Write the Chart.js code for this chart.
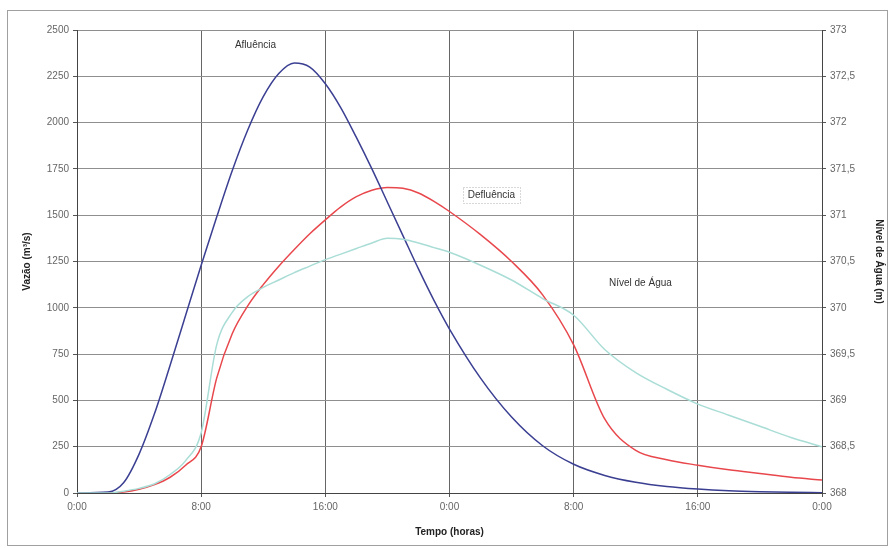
<!DOCTYPE html>
<html>
<head>
<meta charset="utf-8">
<script src="https://cdn.jsdelivr.net/npm/chart.js@4.4.1/dist/chart.umd.min.js"></script>
<style>
  html, body { margin: 0; padding: 0; background: #ffffff; }
  #wrap { width: 891px; height: 548px; position: relative; }
</style>
</head>
<body>
<div id="wrap"><canvas id="c" width="891" height="548"></canvas></div>
<script>
// Tempo em horas desde o início do evento
const hours = [0, 2, 3, 4, 5, 6, 7, 8, 9, 10, 11, 12, 13, 14, 15, 16, 17, 18, 19, 20, 21, 22, 23, 24,
               26, 28, 30, 32, 34, 36, 38, 40, 42, 44, 46, 48];

// Vazão afluente (m³/s)
const afluencia = [0, 5, 55, 210, 430, 690, 960, 1230, 1490, 1740, 1960, 2140, 2265, 2322, 2300, 2210,
                   2080, 1920, 1750, 1570, 1390, 1210, 1040, 885,
                   620, 410, 255, 155, 95, 58, 35, 21, 12, 7, 4, 2];

// Vazão defluente (m³/s)
const defluencia = [0, 0, 5, 20, 45, 85, 150, 250, 620, 860, 1010, 1125, 1225, 1315, 1400, 1475,
                    1545, 1600, 1635, 1650, 1645, 1620, 1575, 1520,
                    1395, 1250, 1070, 800, 400, 230, 180, 150, 125, 105, 85, 70];

// Nível de água no reservatório (m)
const nivel = [368.0, 368.0, 368.02, 368.05, 368.1, 368.2, 368.35, 368.65, 369.6, 369.95, 370.12, 370.22,
               370.3, 370.38, 370.45, 370.52, 370.58, 370.64, 370.7, 370.75, 370.74, 370.7, 370.65, 370.6,
               370.46, 370.3, 370.1, 369.92, 369.55, 369.3, 369.12, 368.96, 368.84, 368.72, 368.6, 368.5];

// Eixo do tempo
const xTicks = [0, 8, 16, 24, 32, 40, 48];
const xTickLabels = ['0:00', '8:00', '16:00', '0:00', '8:00', '16:00', '0:00'];

const FONT = '"Liberation Sans", Arial, sans-serif';

const toPoints = (ys) => hours.map((h, i) => ({ x: h, y: ys[i] }));

// Rótulos das curvas, ancorados em coordenadas de dados
const curveLabels = [
  { text: 'Afluência', x: 11.5, y: 2415, box: false },
  { text: 'Defluência', x: 26.7, y: 1610, box: true },
  { text: 'Nível de Água', x: 36.3, y: 1130, box: false }
];

const framePlugin = {
  id: 'frame',
  beforeDraw(chart) {
    const ctx = chart.ctx;
    ctx.save();
    ctx.fillStyle = '#ffffff';
    ctx.fillRect(0, 0, chart.width, chart.height);
    ctx.strokeStyle = '#a0a0a0';
    ctx.lineWidth = 1;
    ctx.strokeRect(7.5, 10.5, 880, 535);
    ctx.restore();
  }
};

const labelPlugin = {
  id: 'curveLabels',
  afterDatasetsDraw(chart) {
    const ctx = chart.ctx;
    const xs = chart.scales.x, ys = chart.scales.y;
    ctx.save();
    ctx.font = '10px ' + FONT;
    ctx.textAlign = 'center';
    ctx.textBaseline = 'middle';
    curveLabels.forEach(l => {
      const px = xs.getPixelForValue(l.x);
      const py = ys.getPixelForValue(l.y);
      const w = ctx.measureText(l.text).width;
      if (l.box) {
        ctx.fillStyle = '#ffffff';
        ctx.fillRect(px - w / 2 - 5, py - 8, w + 10, 16);
        ctx.strokeStyle = '#b0b0b0';
        ctx.setLineDash([1, 2]);
        ctx.strokeRect(Math.round(px - w / 2 - 5) + 0.5, Math.round(py - 8) + 0.5, Math.round(w + 10), 16);
        ctx.setLineDash([]);
      }
      ctx.fillStyle = '#333333';
      ctx.fillText(l.text, px, py);
    });
    ctx.restore();
  }
};

new Chart(document.getElementById('c'), {
  type: 'line',
  data: {
    datasets: [
      {
        label: 'Nível de Água',
        data: toPoints(nivel),
        yAxisID: 'y2',
        borderColor: '#a9ddd6',
        borderWidth: 1.5,
        pointRadius: 0,
        fill: false,
        cubicInterpolationMode: 'monotone'
      },
      {
        label: 'Afluência',
        data: toPoints(afluencia),
        yAxisID: 'y',
        borderColor: '#3b3f92',
        borderWidth: 1.5,
        pointRadius: 0,
        fill: false,
        cubicInterpolationMode: 'monotone'
      },
      {
        label: 'Defluência',
        data: toPoints(defluencia),
        yAxisID: 'y',
        borderColor: '#e8474c',
        borderWidth: 1.5,
        pointRadius: 0,
        fill: false,
        cubicInterpolationMode: 'monotone'
      }
    ]
  },
  options: {
    responsive: false,
    animation: false,
    layout: { padding: { left: 12, right: 4, top: 30, bottom: 10 } },
    plugins: {
      legend: { display: false },
      tooltip: { enabled: false }
    },
    scales: {
      x: {
        type: 'linear',
        min: 0,
        max: 48,
        afterBuildTicks: (s) => { s.ticks = xTicks.map(v => ({ value: v })); },
        afterFit: (s) => { s.height = 45; },
        ticks: {
          callback: (v) => xTickLabels[xTicks.indexOf(v)],
          color: '#666666',
          font: { family: FONT, size: 10 },
          padding: 4,
          maxRotation: 0
        },
        grid: { color: '#666666', lineWidth: 1, tickLength: 4, tickColor: '#555555' },
        border: { color: '#444444', width: 1 },
        title: {
          display: true,
          text: 'Tempo (horas)',
          color: '#222222',
          font: { family: FONT, size: 10, weight: 'bold' },
          padding: { top: 9, bottom: 0 }
        }
      },
      y: {
        position: 'left',
        min: 0,
        max: 2500,
        afterFit: (s) => { s.width = 65; },
        ticks: {
          stepSize: 250,
          color: '#666666',
          font: { family: FONT, size: 10 },
          padding: 4,
          callback: (v) => String(v)
        },
        grid: { color: '#8f8f8f', lineWidth: 1, tickLength: 4, tickColor: '#555555' },
        border: { color: '#444444', width: 1 },
        title: {
          display: true,
          text: 'Vazão (m³/s)',
          color: '#222222',
          font: { family: FONT, size: 10, weight: 'bold' },
          padding: { top: 9, bottom: 0 }
        }
      },
      y2: {
        position: 'right',
        min: 368,
        max: 373,
        afterFit: (s) => { s.width = 65; },
        ticks: {
          stepSize: 0.5,
          color: '#666666',
          font: { family: FONT, size: 10 },
          padding: 4,
          callback: (v) => String(v).replace('.', ',')
        },
        grid: { drawOnChartArea: false, tickLength: 4, tickColor: '#555555' },
        border: { color: '#444444', width: 1 },
        title: {
          display: true,
          text: 'Nível de Água (m)',
          color: '#222222',
          font: { family: FONT, size: 10, weight: 'bold' },
          padding: { top: 2, bottom: 0 }
        }
      }
    }
  },
  plugins: [framePlugin, labelPlugin]
});
</script>
</body>
</html>
